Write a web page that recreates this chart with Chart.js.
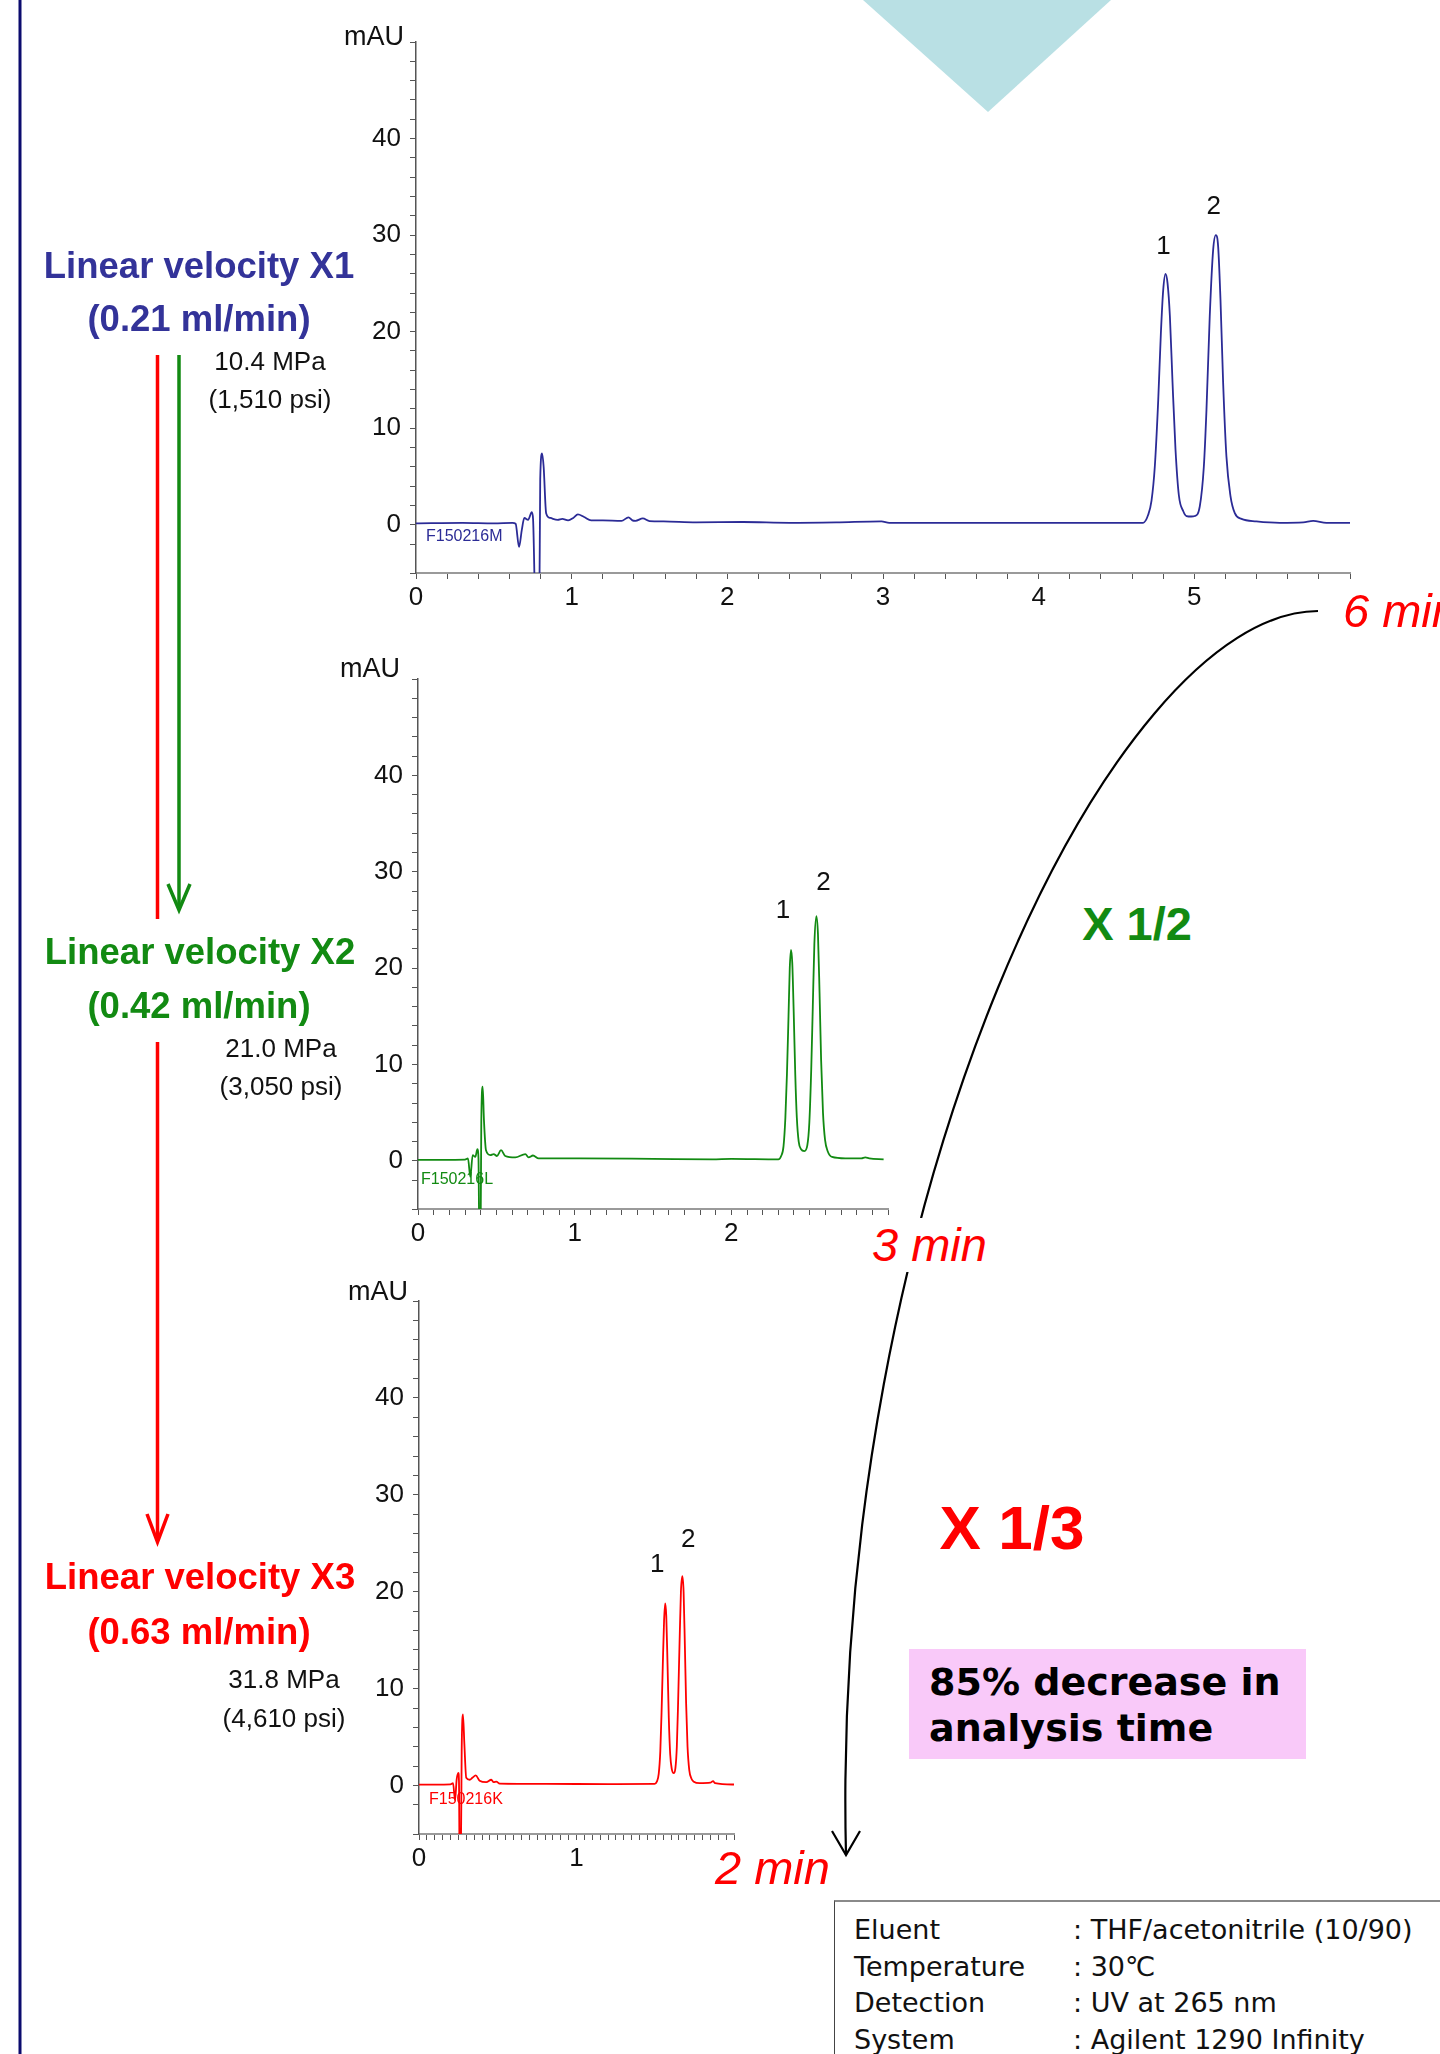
<!DOCTYPE html>
<html><head><meta charset="utf-8">
<script src="https://cdn.jsdelivr.net/npm/chart.js@4.4.1/dist/chart.umd.min.js"></script>
<style>
html,body{margin:0;padding:0;background:#fff;}
#page{position:relative;width:1440px;height:2054px;overflow:hidden;background:#fff;font-family:'Liberation Sans',Arial,sans-serif;}
svg{position:absolute;left:0;top:0;z-index:0;}
canvas{position:absolute;z-index:1;}
.t{position:absolute;white-space:nowrap;line-height:1.15;z-index:2;}
.c{transform:translate(-50%,-50%);}
.l{transform:translate(0,-50%);}
.lv{font-weight:bold;font-size:36.5px;}
.pr{font-size:26px;color:#111;}
.min{font-style:italic;font-size:47px;color:#ff0000;}
.cond{font-family:'DejaVu Sans',Verdana,sans-serif;font-size:27px;color:#111;}
</style></head>
<body><div id="page">
<svg width="1440" height="2054" viewBox="0 0 1440 2054">
  <line x1="20" y1="0" x2="20" y2="2054" stroke="#0b0b6e" stroke-width="3"/>
  <polygon points="863,0 1111,0 988,112" fill="#b9e0e4"/>
  <line x1="157.5" y1="355" x2="157.5" y2="919" stroke="#ff0000" stroke-width="3.5"/>
  <line x1="179" y1="355" x2="179" y2="909" stroke="#128a12" stroke-width="3.5"/>
  <polyline points="168,884 179,910 190,884" fill="none" stroke="#128a12" stroke-width="3.5"/>
  <line x1="157.5" y1="1042" x2="157.5" y2="1541" stroke="#ff0000" stroke-width="3.5"/>
  <polyline points="147,1514 157.5,1542 168,1514" fill="none" stroke="#ff0000" stroke-width="3.5"/>
  <path d="M1318,611 C1110,612 830,1200 846,1855" fill="none" stroke="#000" stroke-width="2.2"/>
  <polyline points="832,1831 846,1855 860,1831" fill="none" stroke="#000" stroke-width="2.2"/>
</svg>

<canvas id="c1" width="1100" height="640" style="left:300px;top:0px"></canvas>
<canvas id="c2" width="640" height="620" style="left:300px;top:640px"></canvas>
<canvas id="c3" width="500" height="640" style="left:300px;top:1262px"></canvas>

<div class="t c lv" style="left:199px;top:266px;color:#333399">Linear velocity X1</div>
<div class="t c lv" style="left:199px;top:319px;color:#333399">(0.21 ml/min)</div>
<div class="t c pr" style="left:270px;top:362px">10.4 MPa</div>
<div class="t c pr" style="left:270px;top:400px">(1,510 psi)</div>

<div class="t c lv" style="left:200px;top:952px;color:#128a12">Linear velocity X2</div>
<div class="t c lv" style="left:199px;top:1006px;color:#128a12">(0.42 ml/min)</div>
<div class="t c pr" style="left:281px;top:1049px">21.0 MPa</div>
<div class="t c pr" style="left:281px;top:1087px">(3,050 psi)</div>

<div class="t c lv" style="left:200px;top:1577px;color:#ff0000">Linear velocity X3</div>
<div class="t c lv" style="left:199px;top:1632px;color:#ff0000">(0.63 ml/min)</div>
<div class="t c pr" style="left:284px;top:1680px">31.8 MPa</div>
<div class="t c pr" style="left:284px;top:1719px">(4,610 psi)</div>

<div class="t l min" style="left:1343px;top:611px">6 min</div>
<div class="t l min" style="left:869px;top:1245px;background:#fff;padding:0 3px">3 min</div>
<div class="t l min" style="left:715px;top:1868px">2 min</div>

<div class="t c" style="left:1137px;top:924px;font-weight:bold;font-size:47px;color:#128a12">X 1/2</div>
<div class="t c" style="left:1012px;top:1528px;font-weight:bold;font-size:62px;color:#ff0000">X 1/3</div>

<div style="position:absolute;left:909px;top:1649px;width:397px;height:110px;background:#f9c9f9;z-index:1"></div>
<div class="t l" style="left:929px;top:1683px;font-family:'DejaVu Sans',Verdana,sans-serif;font-weight:bold;font-size:38px;color:#000">85% decrease in</div>
<div class="t l" style="left:929px;top:1729px;font-family:'DejaVu Sans',Verdana,sans-serif;font-weight:bold;font-size:38px;color:#000">analysis time</div>

<div style="position:absolute;left:834px;top:1900px;width:700px;height:200px;border-left:1px solid #444;border-top:2px solid #8a8a8a;z-index:1"></div>
<div class="t l cond" style="left:854px;top:1930px">Eluent</div>
<div class="t l cond" style="left:1073px;top:1930px">: THF/acetonitrile (10/90)</div>
<div class="t l cond" style="left:854px;top:1967px">Temperature</div>
<div class="t l cond" style="left:1073px;top:1967px">: 30℃</div>
<div class="t l cond" style="left:854px;top:2003px">Detection</div>
<div class="t l cond" style="left:1073px;top:2003px">: UV at 265 nm</div>
<div class="t l cond" style="left:854px;top:2040px">System</div>
<div class="t l cond" style="left:1073px;top:2040px">: Agilent 1290 Infinity</div>
</div>

<script>
// ---------- data (retention time in min, absorbance in mAU) ----------
const yTickLabels = [0, 10, 20, 30, 40];

// Linear velocity X1 (0.21 ml/min)
const time1 = [0,0.3,0.5,0.62,0.64,0.662,0.68,0.696,0.72,0.744,0.752,0.768,0.792,0.798,0.81,0.82,0.836,0.863,0.91,0.94,0.977,1.01,1.04,1.08,1.125,1.2,1.32,1.365,1.39,1.41,1.457,1.5,1.59,1.8,2.1,2.4,2.7,2.99,3.04,3.5,4.0,4.5,4.65,4.671,4.703,4.725,4.746,4.768,4.785,4.8,4.815,4.828,4.843,4.86,4.879,4.901,4.929,4.95,4.98,5.003,5.035,5.061,5.078,5.099,5.121,5.138,5.153,5.168,5.185,5.206,5.232,5.26,5.303,5.399,5.549,5.7,5.763,5.849,6.0];
const abs1  = [0.15,0.2,0.15,0.2,0.1,-2.3,-0.5,0.7,0.5,1.3,0.6,-9,-9,4.7,7.4,6.0,1.2,0.7,0.5,0.6,0.45,0.7,1.07,0.8,0.45,0.45,0.4,0.76,0.45,0.4,0.65,0.38,0.35,0.25,0.28,0.2,0.25,0.35,0.2,0.2,0.2,0.2,0.2,0.2,1.0,2.5,6.0,12.9,19.8,24.3,25.97,25.0,21.6,14.7,7.8,3.0,1.4,0.9,0.85,0.9,1.9,6.0,11.9,21.6,28.5,30.0,28.8,23.3,14.7,7.1,3.0,1.2,0.6,0.35,0.2,0.25,0.4,0.2,0.2];
const xTickLabels1 = [0, 1, 2, 3, 4, 5];
const peakTime1 = [4.815, 5.138];
const peakAbs1  = [25.97, 30.0];

// Linear velocity X2 (0.42 ml/min)
const time2 = [0,0.15,0.3,0.319,0.334,0.349,0.366,0.379,0.386,0.392,0.399,0.404,0.413,0.421,0.434,0.462,0.483,0.504,0.53,0.557,0.621,0.685,0.706,0.734,0.77,1.026,1.5,1.877,2.0,2.3,2.318,2.333,2.345,2.355,2.365,2.373,2.381,2.389,2.398,2.408,2.418,2.43,2.445,2.466,2.485,2.498,2.51,2.52,2.53,2.543,2.553,2.563,2.573,2.585,2.598,2.615,2.643,2.728,2.83,2.855,2.88,2.972];
const abs2  = [0.1,0.1,0.12,0.25,-1.66,0.6,0.4,1.2,0.3,-9,-9,4.0,7.7,4.2,1.1,0.6,0.7,0.5,1.1,0.5,0.35,0.7,0.35,0.55,0.25,0.25,0.2,0.15,0.2,0.15,0.5,1.5,4.5,9,15,20,21.9,20.5,15.5,9,4.5,2.0,1.2,1.0,1.6,4,9.5,16,22.5,25.4,23.5,17.5,10.5,5,2.2,1.0,0.4,0.25,0.25,0.35,0.25,0.15];
const xTickLabels2 = [0, 1, 2];
const peakTime2 = [2.381, 2.543];
const peakAbs2  = [21.9, 25.4];

// Linear velocity X3 (0.63 ml/min)
const time3 = [0,0.1,0.2,0.216,0.229,0.239,0.25,0.254,0.258,0.265,0.271,0.279,0.288,0.3,0.322,0.339,0.36,0.385,0.427,0.459,0.474,0.491,0.512,0.808,1.2,1.496,1.51,1.522,1.532,1.54,1.548,1.556,1.563,1.57,1.578,1.586,1.595,1.605,1.617,1.628,1.637,1.645,1.654,1.663,1.672,1.68,1.688,1.696,1.705,1.716,1.73,1.745,1.782,1.85,1.867,1.88,2.015];
const abs3  = [0.1,0.1,0.12,0.25,-1.5,0.6,1.3,0.3,-9,-9,3.6,7.35,4.3,0.8,0.6,0.8,1.04,0.5,0.35,0.6,0.35,0.4,0.2,0.17,0.15,0.17,0.4,1.2,3.5,7.5,12.5,17,18.8,17.5,12.5,7,3.2,1.7,1.28,1.8,4,8.5,14.5,20,21.6,20,14.5,8.5,4,1.6,0.7,0.4,0.25,0.3,0.45,0.25,0.1];
const xTickLabels3 = [0, 1];
const peakTime3 = [1.563, 1.672];
const peakAbs3  = [18.8, 21.6];

const sampleIds = ['F150216M', 'F150216L', 'F150216K'];
const peakNames = ['1', '2'];

// ---------- drawing ----------
Chart.defaults.font.family = "'Liberation Sans', Arial, sans-serif";
Chart.defaults.color = '#111';

const annoPlugin = {
  id: 'chromAnno',
  afterDraw(chart, args, o) {
    const ctx = chart.ctx, a = chart.chartArea;
    const xs = chart.scales.x, ys = chart.scales.y;
    ctx.save();
    ctx.fillStyle = '#111';
    ctx.font = "27px 'Liberation Sans', Arial, sans-serif";
    ctx.textAlign = 'right';
    ctx.textBaseline = 'middle';
    ctx.fillText('mAU', a.left + o.mauDx, a.top + o.mauDy);
    // sample id
    ctx.fillStyle = o.color;
    ctx.font = "16px 'Liberation Sans', Arial, sans-serif";
    ctx.textAlign = 'left';
    ctx.fillText(o.sampleId, a.left + o.idDx, ys.getPixelForValue(o.idValue));
    // peak numbers
    ctx.fillStyle = '#111';
    ctx.font = "26px 'Liberation Sans', Arial, sans-serif";
    ctx.textAlign = 'center';
    o.peakTime.forEach((t, i) => {
      ctx.fillText(peakNames[i], xs.getPixelForValue(t) + o.peakDx[i], ys.getPixelForValue(o.peakAbs[i]) + o.peakDy[i]);
    });
    ctx.restore();
  }
};

function makeChart(id, times, values, color, xLabels, cfg) {
  const pts = times.map((t, i) => ({x: t, y: values[i]}));
  return new Chart(document.getElementById(id), {
    type: 'line',
    data: {datasets: [{data: pts, borderColor: color, borderWidth: 1.8, pointRadius: 0,
      cubicInterpolationMode: 'monotone', fill: false}]},
    options: {
      responsive: false, animation: false, events: [],
      layout: {padding: {left: 0, top: cfg.padTop, right: cfg.padRight, bottom: 0}},
      plugins: {legend: {display: false}, tooltip: {enabled: false},
        chromAnno: Object.assign({color: color}, cfg.anno)},
      scales: {
        x: {
          type: 'linear', min: 0, max: cfg.xMax,
          afterFit: (s) => { s.height = cfg.xHeight; },
          grid: {drawOnChartArea: false, drawTicks: true, tickLength: 6, tickColor: '#555', tickWidth: 1},
          border: {display: true, color: '#9a9a9a', width: 2},
          ticks: {stepSize: cfg.xStep, autoSkip: false, maxRotation: 0, minRotation: 0, padding: 3,
            color: '#111', font: {size: 26},
            callback: (v) => { const r = Math.round(v * 1000) / 1000; return xLabels.includes(r) ? String(r) : ''; }}
        },
        y: {
          min: -5, max: 50,
          afterFit: (s) => { s.width = cfg.yWidth; },
          grid: {drawOnChartArea: false, drawTicks: true, tickLength: 6, tickColor: '#555', tickWidth: 1},
          border: {display: true, color: '#555', width: 1.5},
          ticks: {stepSize: 2, autoSkip: false, padding: 9, color: '#111', font: {size: 26},
            callback: (v) => yTickLabels.includes(v) ? String(v) : ''}
        }
      }
    },
    plugins: [annoPlugin]
  });
}

makeChart('c1', time1, abs1, '#2b2b96', xTickLabels1, {
  xMax: 6, xStep: 0.2, padTop: 42, padRight: 50, xHeight: 67, yWidth: 116,
  anno: {mauDx: -12, mauDy: -4, sampleId: sampleIds[0], idDx: 10, idValue: -1.25,
         peakTime: peakTime1, peakAbs: peakAbs1, peakDx: [-2, -2], peakDy: [-27, -28]}
});
makeChart('c2', time2, abs2, '#128a12', xTickLabels2, {
  xMax: 3, xStep: 0.1, padTop: 39, padRight: 52, xHeight: 51, yWidth: 118,
  anno: {mauDx: -18, mauDy: -9, sampleId: sampleIds[1], idDx: 3, idValue: -2.0,
         peakTime: peakTime2, peakAbs: peakAbs2, peakDx: [-8, 7], peakDy: [-39, -33]}
});
makeChart('c3', time3, abs3, '#ff0000', xTickLabels3, {
  xMax: 2, xStep: 0.05, padTop: 39, padRight: 66, xHeight: 68, yWidth: 119,
  anno: {mauDx: -11, mauDy: -8, sampleId: sampleIds[2], idDx: 10, idValue: -1.5,
         peakTime: peakTime3, peakAbs: peakAbs3, peakDx: [-8, 6], peakDy: [-39, -36]}
});
</script>
</body></html>
